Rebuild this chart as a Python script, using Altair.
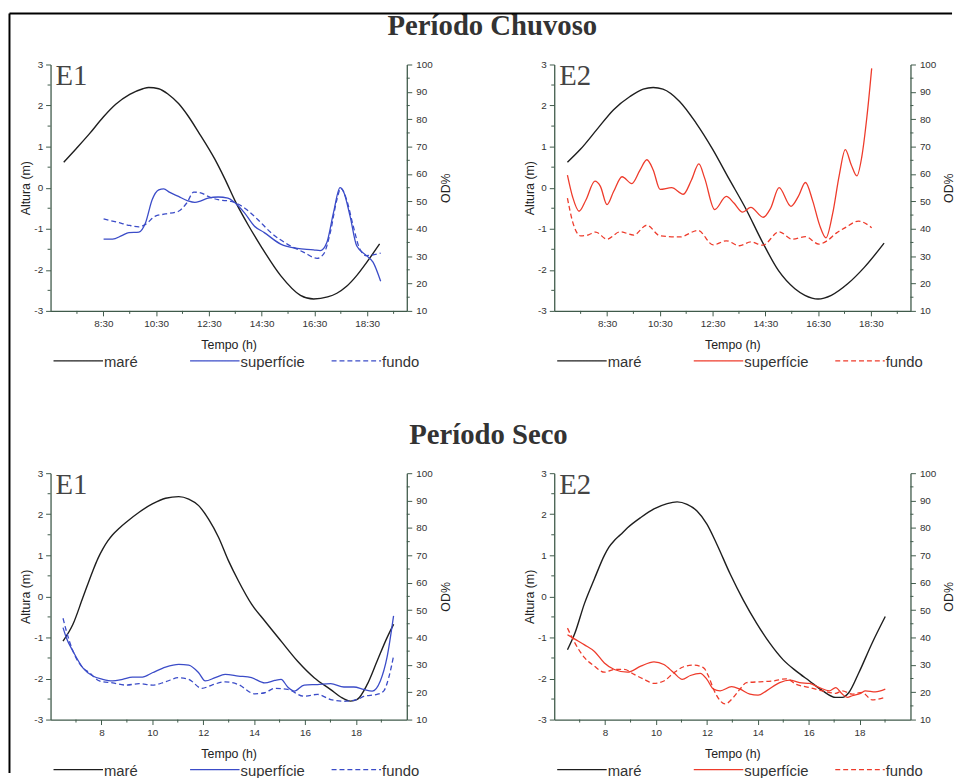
import altair as alt
import pandas as pd

# ---------------- data ----------------
# Período Chuvoso - E1
cA_mare_t = [7.0, 7.47, 7.97, 8.5, 8.97, 9.5, 10.0, 10.22, 10.6, 10.97, 11.35, 11.72, 12.1, 12.72, 13.1, 13.53, 14.0, 14.47, 15.22, 15.97, 16.47, 17.0, 17.35, 17.72, 18.1, 18.5, 18.97]
cA_mare_h = [0.62, 0.95, 1.31, 1.72, 2.03, 2.27, 2.41, 2.44, 2.41, 2.27, 2.05, 1.74, 1.36, 0.70, 0.22, -0.37, -0.92, -1.42, -2.14, -2.62, -2.71, -2.66, -2.57, -2.40, -2.14, -1.80, -1.37]
cA_sup_t = [8.51, 8.85, 9.2, 9.47, 9.85, 10.1, 10.35, 10.6, 10.79, 11.0, 11.35, 11.7, 11.97, 12.2, 12.47, 12.85, 13.22, 13.5, 13.85, 14.22, 14.6, 15.22, 15.85, 16.47, 16.72, 16.97, 17.22, 17.47, 17.6, 17.85, 18.1, 18.47, 18.72, 19.01]
cA_sup_od = [36.2, 36.2, 37.5, 38.6, 38.8, 42.2, 50.6, 54.2, 54.6, 53.4, 51.8, 50.2, 49.6, 50.2, 51.2, 51.6, 51.2, 49.4, 45.8, 41.0, 38.6, 34.4, 32.8, 32.3, 32.0, 35.0, 45.8, 55.0, 53.6, 44.6, 33.8, 30.2, 27.8, 20.8]
cA_fun_t = [8.51, 9.1, 9.5, 9.85, 10.1, 10.47, 10.85, 11.35, 11.66, 11.93, 12.22, 12.47, 12.85, 13.35, 13.85, 14.35, 14.85, 15.47, 16.1, 16.6, 16.85, 17.1, 17.35, 17.5, 17.72, 17.97, 18.22, 18.47, 19.01]
cA_fun_od = [43.6, 42.2, 41.2, 40.7, 41.6, 44.6, 45.4, 46.4, 49.4, 53.4, 53.0, 51.8, 50.6, 50.0, 47.6, 43.4, 38.6, 34.4, 31.4, 29.2, 30.8, 38.6, 50.6, 54.8, 50.6, 41.0, 32.6, 30.2, 31.1]

# Período Chuvoso - E2
cB_mare_t = [7.0, 7.5, 8.12, 8.75, 9.37, 9.87, 10.25, 10.62, 11.25, 11.87, 12.5, 13.12, 13.75, 14.37, 15.0, 15.62, 16.0, 16.5, 17.0, 17.62, 18.25, 19.0]
cB_mare_h = [0.62, 0.94, 1.42, 1.9, 2.22, 2.4, 2.44, 2.4, 2.1, 1.58, 0.94, 0.22, -0.5, -1.3, -2.02, -2.46, -2.62, -2.71, -2.62, -2.34, -1.94, -1.35]
cB_sup_t = [7.0, 7.2, 7.44, 7.7, 8.04, 8.25, 8.5, 8.75, 9.07, 9.44, 9.75, 10.01, 10.25, 10.51, 10.95, 11.39, 11.7, 11.98, 12.2, 12.58, 13.02, 13.3, 13.64, 13.95, 14.42, 14.7, 15.02, 15.47, 15.75, 16.02, 16.3, 16.55, 16.8, 17.05, 17.3, 17.53, 17.75, 17.97, 18.15, 18.35, 18.53]
cB_sup_od = [59.6, 51.5, 46.4, 50.5, 57.4, 55.5, 48.8, 53.6, 59.0, 56.5, 61.4, 65.2, 61.5, 54.4, 55.0, 52.6, 57.8, 63.7, 58.5, 47.0, 51.8, 49.5, 46.1, 47.8, 44.2, 47.5, 55.0, 48.2, 51.8, 56.9, 50.0, 41.5, 36.7, 45.5, 59.5, 68.9, 63.5, 59.3, 66.0, 81.0, 98.6]
cB_fun_t = [7.0, 7.19, 7.5, 7.8, 8.07, 8.5, 9.0, 9.51, 10.01, 10.51, 11.26, 11.95, 12.52, 13.02, 13.52, 13.95, 14.4, 15.02, 15.52, 16.02, 16.53, 16.84, 17.2, 17.53, 18.03, 18.53]
cB_fun_od = [51.2, 42.8, 37.4, 37.8, 38.8, 36.2, 38.9, 37.7, 41.3, 37.4, 37.0, 39.4, 34.1, 35.6, 33.8, 35.2, 34.0, 38.9, 36.2, 37.1, 34.4, 35.6, 38.5, 40.4, 42.8, 40.4]

# Período Seco - E1
sC_mare_t = [6.49, 6.88, 7.27, 7.66, 7.86, 8.05, 8.25, 8.44, 8.7, 8.96, 9.48, 10.0, 10.52, 11.04, 11.43, 11.82, 12.21, 12.6, 12.99, 13.38, 13.9, 14.42, 15.06, 15.71, 16.36, 17.01, 17.4, 17.79, 18.05, 18.44, 18.83, 19.22, 19.48]
sC_mare_h = [-1.09, -0.68, -0.03, 0.62, 0.92, 1.15, 1.35, 1.50, 1.66, 1.80, 2.05, 2.25, 2.39, 2.43, 2.37, 2.21, 1.88, 1.44, 0.87, 0.38, -0.19, -0.6, -1.09, -1.58, -1.98, -2.27, -2.45, -2.55, -2.51, -2.15, -1.58, -1.01, -0.68]
sC_sup_t = [6.49, 6.62, 6.88, 7.27, 7.66, 8.05, 8.44, 8.83, 9.22, 9.61, 10.0, 10.52, 11.04, 11.43, 11.82, 12.08, 12.47, 12.86, 13.38, 13.9, 14.42, 14.81, 15.06, 15.32, 15.58, 15.97, 16.49, 17.01, 17.53, 17.92, 18.31, 18.64, 18.96, 19.22, 19.48]
sC_sup_od = [43.6, 39.9, 35.0, 28.9, 25.9, 24.7, 24.1, 24.7, 25.5, 25.5, 27.1, 29.2, 30.2, 29.9, 27.1, 24.1, 25.3, 26.5, 25.9, 25.3, 23.4, 24.3, 24.7, 21.9, 20.4, 22.6, 22.8, 23.1, 21.9, 21.9, 21.0, 20.4, 24.1, 32.6, 47.9]
sC_fun_t = [6.49, 6.62, 6.88, 7.27, 7.53, 7.92, 8.44, 8.96, 9.48, 10.0, 10.52, 11.04, 11.43, 11.95, 12.34, 12.86, 13.38, 14.03, 14.42, 14.81, 15.32, 15.97, 16.49, 17.01, 17.53, 18.05, 18.31, 18.83, 19.09, 19.29, 19.48]
sC_fun_od = [47.0, 42.4, 35.0, 28.9, 27.1, 24.1, 23.4, 22.6, 23.1, 22.6, 23.8, 25.3, 24.7, 21.4, 22.6, 23.8, 22.8, 19.4, 19.8, 21.4, 21.0, 18.5, 19.2, 17.3, 16.7, 17.3, 18.5, 19.2, 20.4, 25.3, 33.2]

# Período Seco - E2
sD_mare_t = [6.52, 6.81, 7.19, 7.58, 7.97, 8.15, 8.36, 8.6, 8.88, 9.4, 9.92, 10.44, 10.83, 11.22, 11.61, 12.0, 12.39, 12.91, 13.43, 13.95, 14.47, 14.99, 15.51, 16.03, 16.55, 17.06, 17.32, 17.58, 17.97, 18.49, 19.01]
sD_mare_h = [-1.30, -0.9, -0.17, 0.43, 1.0, 1.2, 1.36, 1.5, 1.67, 1.92, 2.13, 2.26, 2.3, 2.24, 2.08, 1.76, 1.27, 0.55, -0.09, -0.65, -1.14, -1.54, -1.82, -2.06, -2.3, -2.46, -2.46, -2.34, -1.86, -1.14, -0.49]
sD_sup_t = [6.52, 6.81, 7.19, 7.58, 7.97, 8.36, 8.88, 9.4, 9.92, 10.31, 10.7, 11.03, 11.35, 11.74, 12.0, 12.26, 12.52, 12.97, 13.3, 13.69, 14.01, 14.34, 14.86, 15.25, 15.64, 16.03, 16.42, 16.81, 17.06, 17.32, 17.52, 17.71, 18.04, 18.23, 18.62, 19.01]
sD_sup_od = [41.0, 39.4, 37.3, 34.9, 30.7, 28.3, 27.3, 29.5, 31.1, 30.1, 27.1, 24.7, 26.1, 26.9, 24.7, 21.1, 20.5, 22.0, 21.1, 19.3, 18.9, 20.5, 23.5, 24.4, 23.5, 23.2, 21.7, 20.5, 21.7, 19.3, 18.1, 18.7, 19.6, 20.5, 20.1, 21.1]
sD_fun_t = [6.52, 6.81, 7.19, 7.58, 7.97, 8.36, 8.75, 9.14, 9.53, 9.92, 10.31, 10.7, 11.09, 11.48, 11.87, 12.06, 12.26, 12.52, 12.71, 13.04, 13.3, 13.56, 14.08, 14.6, 15.12, 15.51, 16.03, 16.55, 17.06, 17.32, 17.71, 18.1, 18.49, 19.01]
sD_fun_od = [43.4, 38.0, 32.6, 29.5, 27.3, 28.3, 28.3, 26.5, 24.7, 23.2, 24.1, 27.1, 29.3, 29.9, 28.9, 25.9, 21.1, 16.9, 15.7, 18.1, 21.1, 23.5, 23.8, 24.1, 24.9, 22.9, 21.7, 20.5, 19.6, 20.5, 19.3, 19.9, 17.2, 18.1]

# axes / labels
chuvoso_xdomain = [6.5, 20.0]
chuvoso_major = [8.5, 10.5, 12.5, 14.5, 16.5, 18.5]
chuvoso_minor = [7.5, 9.5, 11.5, 13.5, 15.5, 17.5, 19.5]
seco_xdomain = [6.0, 20.0]
seco_major = [8, 10, 12, 14, 16, 18]
seco_minor = [7, 9, 11, 13, 15, 17, 19]
altura_ticks = [-3, -2, -1, 0, 1, 2, 3]
altura_minor = [-2.5, -1.5, -0.5, 0.5, 1.5, 2.5]
od_ticks = [10, 20, 30, 40, 50, 60, 70, 80, 90, 100]
od_minor = [15, 25, 35, 45, 55, 65, 75, 85, 95]
legend_labels = ["maré", "superfície", "fundo"]
section_titles = ["Período Chuvoso", "Período Seco"]
station_tags = ["E1", "E2"]

# ---------------- styling ----------------
W, H = 360, 249
AXIS_COLOR = "#3f5a4a"
TIDE = "#1e1e1e"
BLUE = "#3b4cc8"
RED = "#ee3b2b"
DASH = [5, 3]


def make_panel(mt, mh, st, sod, ft, fod, color, xdom, xmajor, xminor, label_expr,
               tag, section=None, section_pos=None, frame=False):
    df_m = pd.DataFrame({"t": mt, "h": mh})
    df_s = pd.DataFrame({"t": st, "od": sod})
    df_f = pd.DataFrame({"t": ft, "od": fod})

    xenc = alt.X("t:Q", scale=alt.Scale(domain=xdom, nice=False, zero=False),
                 axis=alt.Axis(values=xmajor, labelExpr=label_expr, title="Tempo (h)",
                               tickSize=5, labelPadding=3, titlePadding=10))
    yh = alt.Y("h:Q", scale=alt.Scale(domain=[-3, 3], nice=False, zero=False),
               axis=alt.Axis(values=altura_ticks, labelExpr="'' + datum.value",
                             title="Altura (m)", orient="left", tickSize=5,
                             labelPadding=3, titlePadding=1))
    yod = alt.Y("od:Q", scale=alt.Scale(domain=[10, 100], nice=False, zero=False),
                axis=alt.Axis(values=od_ticks, title="OD%", orient="right", tickSize=5,
                              titleAngle=270, titleBaseline="top",
                              labelPadding=4, titlePadding=7))

    mare = alt.Chart(df_m).mark_line(color=TIDE, strokeWidth=1.4, interpolate="monotone").encode(x=xenc, y=yh)
    hminor = alt.Chart(pd.DataFrame({"h": altura_minor})).mark_rule(
        color=AXIS_COLOR, strokeWidth=1).encode(y=yh, x=alt.value(-3), x2=alt.value(0))
    xminor_l = alt.Chart(pd.DataFrame({"t": xminor})).mark_rule(
        color=AXIS_COLOR, strokeWidth=1).encode(x=xenc, y=alt.value(H), y2=alt.value(H + 3))

    extra = []
    tag_df = pd.DataFrame({"label": [tag]})
    extra.append(alt.Chart(tag_df).mark_text(
        font="Liberation Serif", fontSize=29, color="#444444", align="left",
        baseline="alphabetic").encode(x=alt.value(5), y=alt.value(21), text="label:N"))

    # legend under the panel
    lx = [3, 141, 284]
    ly = 299.5
    lcolors = [TIDE, color, color]
    for i, lab in enumerate(legend_labels):
        rule = alt.Chart(pd.DataFrame({"label": [lab]})).mark_rule(
            color=lcolors[i], strokeWidth=1.3, strokeDash=(DASH if i == 2 else [1, 0])
        ).encode(x=alt.value(lx[i]), x2=alt.value(lx[i] + 50), y=alt.value(ly))
        txt = alt.Chart(pd.DataFrame({"label": [lab]})).mark_text(
            font="Liberation Sans", fontSize=15, color="#333333", align="left",
            baseline="middle").encode(x=alt.value(lx[i] + 51), y=alt.value(ly + 1.5), text="label:N")
        extra += [rule, txt]

    if section is not None:
        extra.append(alt.Chart(pd.DataFrame({"label": [section]})).mark_text(
            font="Liberation Serif", fontSize=29, fontWeight="bold", color="#333333",
            align="center", baseline="top").encode(
            x=alt.value(section_pos[0]), y=alt.value(section_pos[1]), text="label:N"))

    if frame:
        fd = pd.DataFrame({"label": ["frame"]})
        extra.append(alt.Chart(fd).mark_rule(color="#000000", strokeWidth=2).encode(
            x=alt.value(-41.5), y=alt.value(-51.5), y2=alt.value(716)))
        extra.append(alt.Chart(fd).mark_rule(color="#000000", strokeWidth=2).encode(
            x=alt.value(-41.5), x2=alt.value(911), y=alt.value(-51.5)))

    g1 = alt.layer(mare, hminor, xminor_l, *extra)

    sup = alt.Chart(df_s).mark_line(color=color, strokeWidth=1.3, interpolate="monotone").encode(x=xenc, y=yod)
    fun = alt.Chart(df_f).mark_line(color=color, strokeWidth=1.3, strokeDash=DASH,
                                   interpolate="monotone").encode(x=xenc, y=yod)
    odminor = alt.Chart(pd.DataFrame({"od": od_minor})).mark_rule(
        color=AXIS_COLOR, strokeWidth=1).encode(y=yod, x=alt.value(W), x2=alt.value(W + 3))
    g2 = alt.layer(sup, fun, odminor)

    return alt.layer(g1, g2).resolve_scale(y="independent").properties(width=W, height=H)


hm_expr = "floor(datum.value) + ':30'"
h_expr = "'' + datum.value"

pA = make_panel(cA_mare_t, cA_mare_h, cA_sup_t, cA_sup_od, cA_fun_t, cA_fun_od, BLUE,
                chuvoso_xdomain, chuvoso_major, chuvoso_minor, hm_expr, station_tags[0],
                section=section_titles[0], section_pos=(446.5, -53), frame=True)
pB = make_panel(cB_mare_t, cB_mare_h, cB_sup_t, cB_sup_od, cB_fun_t, cB_fun_od, RED,
                chuvoso_xdomain, chuvoso_major, chuvoso_minor, hm_expr, station_tags[1])
pC = make_panel(sC_mare_t, sC_mare_h, sC_sup_t, sC_sup_od, sC_fun_t, sC_fun_od, BLUE,
                seco_xdomain, seco_major, seco_minor, h_expr, station_tags[0],
                section=section_titles[1], section_pos=(442.5, -52.5))
pD = make_panel(sD_mare_t, sD_mare_h, sD_sup_t, sD_sup_od, sD_fun_t, sD_fun_od, RED,
                seco_xdomain, seco_major, seco_minor, h_expr, station_tags[1])

chart = alt.concat(pA, pB, pC, pD, columns=2, bounds="flush",
                   spacing={"row": 164, "column": 149}).properties(
    padding={"left": 0, "top": 0, "right": 0, "bottom": 0}
).configure_view(stroke=None).configure_axis(
    domainColor=AXIS_COLOR, tickColor=AXIS_COLOR, domainWidth=1.3, tickWidth=1,
    labelFont="Liberation Sans", labelFontSize=10, labelColor="#333333",
    titleFont="Liberation Sans", titleFontSize=12.5, titleFontWeight="normal",
    titleColor="#222222", grid=False
)

chart.save("out.html", embed_options={"renderer": "svg", "actions": False})
